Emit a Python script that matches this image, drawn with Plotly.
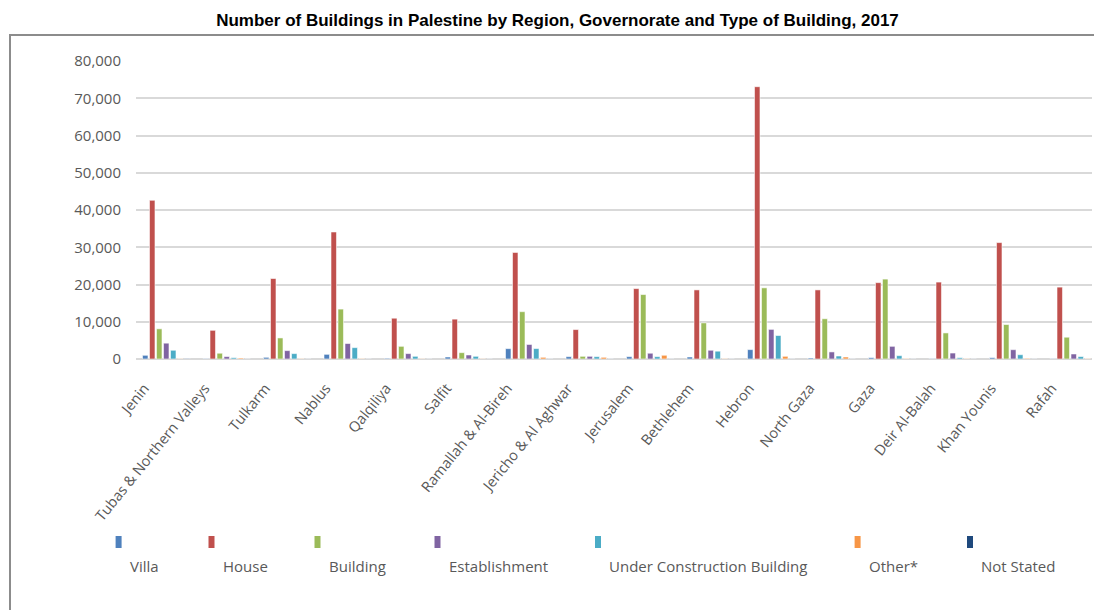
import plotly.graph_objects as go

categories = ["Jenin", "Tubas & Northern Valleys", "Tulkarm", "Nablus", "Qalqiliya", "Salfit",
              "Ramallah & Al-Bireh", "Jericho & Al Aghwar", "Jerusalem", "Bethlehem", "Hebron",
              "North Gaza", "Gaza", "Deir Al-Balah", "Khan Younis", "Rafah"]

villa = [990, 100, 450, 1250, 200, 540, 2780, 630, 630, 540, 2520, 270, 360, 120, 360, 120]
house = [42600, 7700, 21600, 34100, 10950, 10700, 28600, 7900, 18900, 18550, 73100, 18550, 20500, 20650, 31250, 19300]
building = [8100, 1550, 5650, 13400, 3400, 1700, 12700, 720, 17300, 9700, 19100, 10800, 21450, 7000, 9250, 5850]
establishment = [4250, 650, 2250, 4150, 1450, 1080, 3900, 720, 1550, 2350, 7950, 1900, 3400, 1600, 2500, 1350]
under_construction = [2350, 350, 1450, 3050, 720, 720, 2800, 630, 630, 2100, 6300, 800, 900, 350, 1150, 650]
other = [60, 250, 80, 100, 60, 60, 450, 450, 1000, 100, 720, 540, 120, 80, 180, 80]
not_stated = [120, 30, 30, 30, 30, 30, 30, 30, 30, 30, 30, 30, 30, 30, 30, 30]

series_names = ["Villa", "House", "Building", "Establishment", "Under Construction Building", "Other*", "Not Stated"]
series_values = [villa, house, building, establishment, under_construction, other, not_stated]
colors = ["#4F81BD", "#C0504D", "#9BBB59", "#8064A2", "#4BACC6", "#F79646", "#1F497D"]

W, H = 1094, 610
L, R, T, B = 136, 2, 61, 251
PW, PH = W - L - R, H - T - B

fig = go.Figure()
for name, vals, col in zip(series_names, series_values, colors):
    fig.add_trace(go.Bar(x=categories, y=vals, name=name, marker_color=col,
                         marker_line=dict(color="rgba(255,255,255,0.7)", width=0.8),
                         showlegend=False))

def px_x(p):
    return (p - L) / PW

def px_y(p):
    return (H - B - p) / PH

# custom legend: marker above label
leg_marker_x = [118.6, 211.5, 317.5, 437.5, 598, 857.6, 970]
shapes = []
annotations = []
for name, col, mx in zip(series_names, colors, leg_marker_x):
    shapes.append(dict(type="rect", xref="paper", yref="paper",
                       x0=px_x(mx - 3), x1=px_x(mx + 3), y0=px_y(548), y1=px_y(536),
                       fillcolor=col, line=dict(width=0)))
    annotations.append(dict(text=name, xref="paper", yref="paper",
                            x=px_x(mx + 9), y=px_y(566), xanchor="left", yanchor="middle",
                            showarrow=False, font=dict(family="Open Sans", size=15, color="#595959")))

# frame
shapes.append(dict(type="rect", xref="paper", yref="paper",
                   x0=px_x(10), x1=px_x(1110), y0=px_y(640), y1=px_y(35),
                   fillcolor="rgba(0,0,0,0)", line=dict(color="#8c8c8c", width=2), layer="below"))

fig.update_layout(
    width=W, height=H,
    margin=dict(l=L, r=R, t=T, b=B, autoexpand=False),
    paper_bgcolor="white", plot_bgcolor="white",
    barmode="group", bargap=0.19, bargroupgap=0.22,
    title=dict(text="<b>Number of Buildings in Palestine by Region, Governorate and Type of Building, 2017</b>",
               x=557.5 / W, xref="container", xanchor="center",
               y=1 - 20 / H, yref="container", yanchor="middle",
               font=dict(family="Liberation Sans Narrow, Arial Narrow, Liberation Sans", size=17, color="#000000")),
    xaxis=dict(range=[-0.5, -0.5 + PW / 60.5], tickangle=-51, showgrid=False, showline=False,
               ticks="", tickfont=dict(family="Open Sans", size=14.5, color="#595959"),
               ticklabelshift=-22, ticklabelstandoff=17),
    yaxis=dict(range=[0, 80000], dtick=10000, tickformat=",", showgrid=True,
               gridcolor="#d9d9d9", gridwidth=1.5, zeroline=True, zerolinecolor="#d9d9d9",
               zerolinewidth=1.5, showline=False, ticks="",
               tickfont=dict(family="Open Sans", size=15, color="#595959"),
               ticklabelstandoff=14),
    shapes=shapes, annotations=annotations,
)

fig.write_html("out.html")
